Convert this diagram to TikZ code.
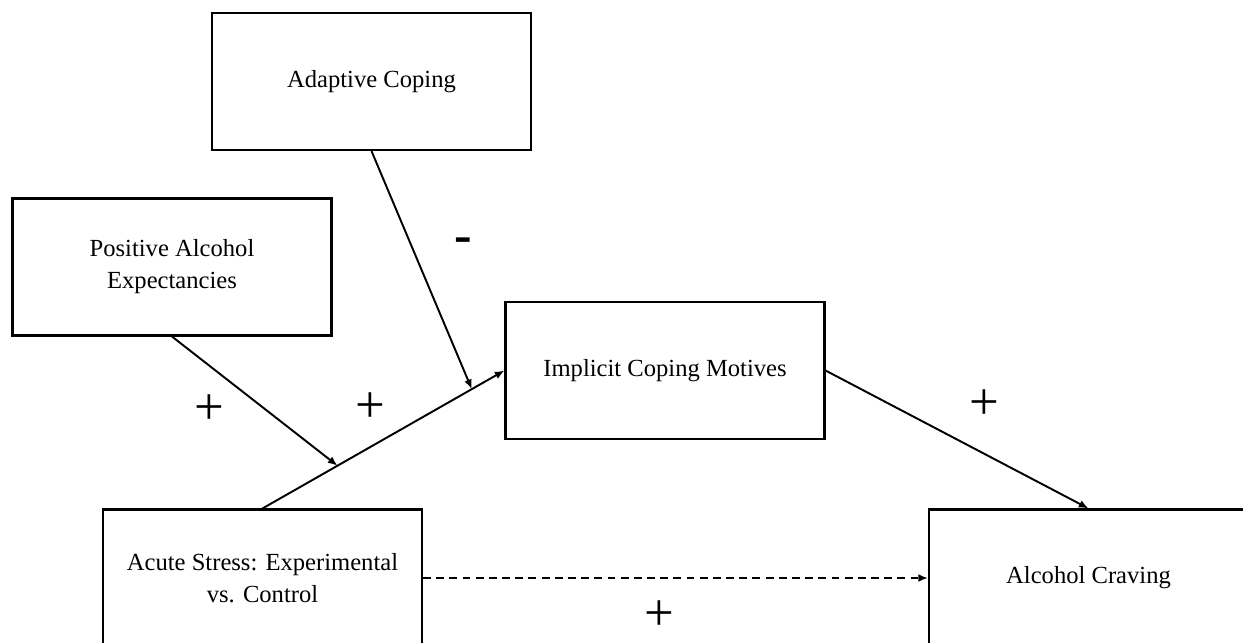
\documentclass[tikz,border=0pt]{standalone}
\usepackage{fontspec}
\setmainfont{Liberation Serif}
\usetikzlibrary{shapes,arrows.meta}

\begin{document}
\begin{tikzpicture}[x=0.02cm,y=-0.02cm,>={Latex[length=5.5pt,width=4.5pt]},
  box/.style={draw,line width=1.2pt,minimum width=6.38cm,minimum height=2.74cm,
    align=center,inner sep=0pt,font=\fontsize{14}{18.2}\selectfont},
  link/.style={line width=1.1pt,->},
  sign/.style={inner sep=0pt,font=\fontsize{30}{30}\selectfont}]
\useasboundingbox (0,0) rectangle (1243,642);

\node[box] (adaptive) at (371.5,81.5) {Adaptive Coping};
\node[box] (positive) at (172,267) {Positive Alcohol\\Expectancies};
\node[box] (implicit) at (665,370.5) {Implicit Coping Motives};
\node[box] (stress) at (262.5,578) {Acute Stress: Experimental\\vs. Control};
\node[box] (craving) at (1088.5,578) {Alcohol Craving};

\draw[link] (stress.north) -- (implicit.west)
  coordinate[pos=0.31] (moda) coordinate[pos=0.865] (modb);
\draw[link] (positive.south) -- (moda);
\draw[link] (adaptive.south) -- (modb);
\draw[link] (implicit.east) -- (craving.north);
\draw[link,dash pattern=on 4.5pt off 3pt] (stress.east) -- (craving.west);

% signs of the paths
\node[sign] (s1) at (463,245) {\bfseries -};
\node[sign] (s2) at (209,410) {+};
\node[sign] (s3) at (370,408) {+};
\node[sign] (s4) at (984,405) {+};
\node[sign] (s5) at (659,616) {+};
\end{tikzpicture}
\end{document}
